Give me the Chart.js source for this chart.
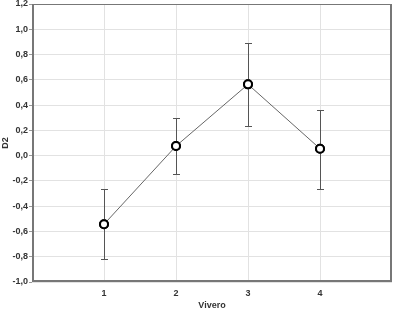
<!DOCTYPE html>
<html><head><meta charset="utf-8">
<script src="https://cdn.jsdelivr.net/npm/chart.js@4/dist/chart.umd.min.js"></script>
<style>html,body{margin:0;padding:0;background:#fff}#wrap{width:394px;height:311px}</style>
</head><body><div id="wrap"><canvas id="c" width="394" height="311"></canvas></div>
<script>
const categories = [1, 2, 3, 4];
const means = [-0.543, 0.076, 0.564, 0.055];
const upper = [-0.267, 0.30, 0.888, 0.358];
const lower = [-0.818, -0.148, 0.234, -0.262];
const yTicks = [-1.0, -0.8, -0.6, -0.4, -0.2, 0.0, 0.2, 0.4, 0.6, 0.8, 1.0, 1.2];

const errorBars = {
  id: 'errorBars',
  afterDatasetsDraw(chart) {
    const ctx = chart.ctx, xs = chart.scales.x, ys = chart.scales.y;
    ctx.save();
    ctx.strokeStyle = '#555';
    ctx.lineWidth = 1;
    categories.forEach((c, i) => {
      const x = Math.round(xs.getPixelForValue(c)) + 0.5;
      const yt = Math.round(ys.getPixelForValue(upper[i])) + 0.5;
      const yb = Math.round(ys.getPixelForValue(lower[i])) + 0.5;
      ctx.beginPath();
      ctx.moveTo(x, yt); ctx.lineTo(x, yb);
      ctx.moveTo(x - 3.5, yt); ctx.lineTo(x + 3.5, yt);
      ctx.moveTo(x - 3.5, yb); ctx.lineTo(x + 3.5, yb);
      ctx.stroke();
    });
    ctx.restore();
    const meta = chart.getDatasetMeta(0);
    meta.data.forEach(p => p.draw(ctx, chart.chartArea));
  }
};

const frame = {
  id: 'frame',
  afterDraw(chart) {
    const a = chart.chartArea, ctx = chart.ctx;
    const l = Math.round(a.left), r = Math.round(a.right), t = Math.round(a.top), b = Math.round(a.bottom);
    ctx.save();
    ctx.strokeStyle = '#777';
    ctx.lineWidth = 1;
    ctx.beginPath();
    ctx.moveTo(l, t + 0.5); ctx.lineTo(r, t + 0.5);
    ctx.stroke();
    ctx.lineWidth = 2;
    ctx.beginPath();
    ctx.moveTo(l + 1, t); ctx.lineTo(l + 1, b);
    ctx.moveTo(r - 1, t); ctx.lineTo(r - 1, b);
    ctx.moveTo(l, b - 1); ctx.lineTo(r, b - 1);
    ctx.stroke();
    ctx.restore();
  }
};

const font = { family: 'Liberation Sans, Arial, sans-serif', size: 9, weight: 'bold' };

new Chart(document.getElementById('c'), {
  type: 'line',
  data: {
    datasets: [{
      data: categories.map((c, i) => ({ x: c, y: means[i] })),
      borderColor: '#666',
      borderWidth: 1,
      pointRadius: 4,
      pointBorderWidth: 2,
      pointBackgroundColor: '#fff',
      pointBorderColor: '#000',
      tension: 0,
      clip: false
    }]
  },
  options: {
    responsive: false,
    animation: false,
    layout: { autoPadding: false, padding: { top: 4, right: 2, left: 0, bottom: 0 } },
    plugins: { legend: { display: false }, tooltip: { enabled: false } },
    scales: {
      x: {
        type: 'linear', min: 0, max: 5,
        afterBuildTicks(s) { s.ticks = categories.map(v => ({ value: v })); },
        afterFit(s) { s.height = 29; s.paddingLeft = 0; s.paddingRight = 0; },
        ticks: { font, color: '#333', padding: 6, callback: v => String(v) },
        grid: { color: '#e2e2e2', drawTicks: false },
        border: { display: false },
        title: { display: true, text: 'Vivero', font, color: '#333', padding: { top: 2, bottom: 0 } }
      },
      y: {
        min: -1.0, max: 1.2,
        afterBuildTicks(s) { s.ticks = yTicks.map(v => ({ value: v })); },
        afterFit(s) { s.width = 32; s.paddingTop = 0; s.paddingBottom = 0; },
        ticks: { font, color: '#333', padding: 1, callback: v => v.toFixed(1).replace('.', ',') },
        grid: { color: '#e2e2e2', tickColor: '#999', tickLength: 3 },
        border: { display: false },
        title: { display: true, text: 'D2', font, color: '#333', padding: { top: 0, bottom: 2 } }
      }
    }
  },
  plugins: [errorBars, frame]
});
</script></body></html>
